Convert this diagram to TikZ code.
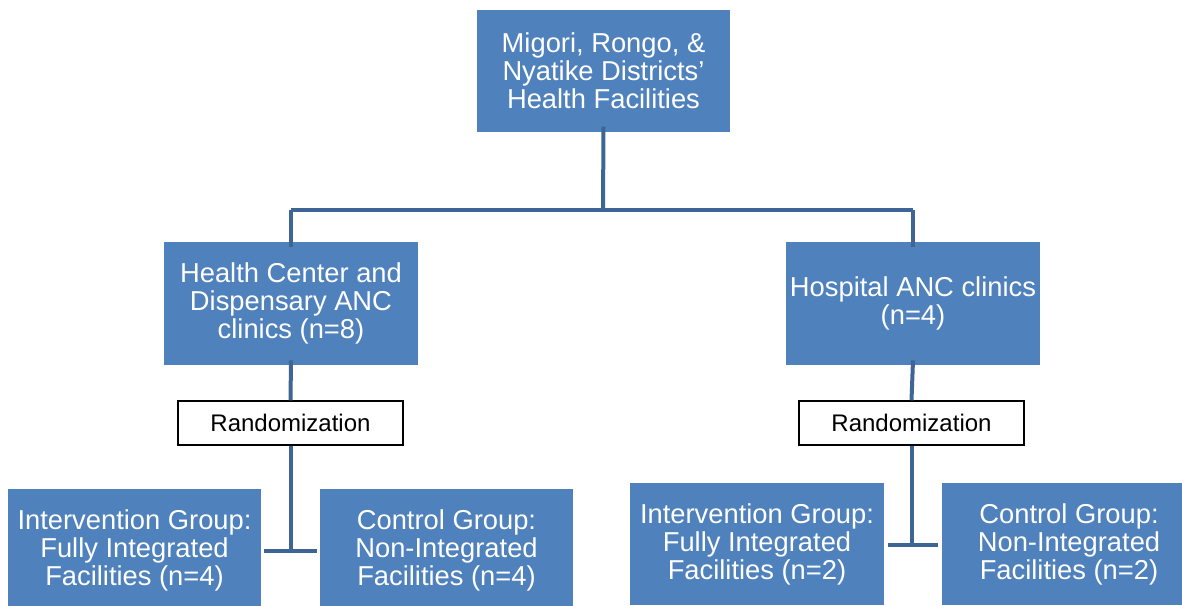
\documentclass[tikz,border=0pt]{standalone}
\usepackage{fontspec}
\setmainfont{Liberation Sans}
\usepackage{xcolor}
\usetikzlibrary{positioning}

\definecolor{boxblue}{RGB}{79,129,189}
\definecolor{linkblue}{RGB}{62,101,150}

\tikzset{
  bluebox/.style={fill=boxblue, draw=none, text=white, minimum width=190pt, minimum height=92pt,
    inner sep=0pt, align=center, font=\fontsize{20.5}{21}\selectfont},
  randbox/.style={fill=white, draw=black, line width=1.1pt, minimum width=169pt, minimum height=33pt,
    inner sep=0pt, font=\fontsize{18}{20}\selectfont},
  link/.style={draw=linkblue, line width=3pt}
}

\begin{document}
\begin{tikzpicture}[x=0.75pt,y=0.75pt,yscale=-1,xscale=1]
\useasboundingbox (0,0) rectangle (1182,606);

% Text Node
\node [bluebox] (dist) at (603.5,71) {Migori, Rongo, \&\\Nyatike Districts'\\Health Facilities};
% Text Node
\node [bluebox] (hc) at (291,303.5) {Health Center and\\Dispensary ANC\\clinics (n=8)};
% Text Node
\node [bluebox] (hosp) at (913,303.5) {Hospital ANC clinics\\(n=4)};
% Text Node
\node [randbox] (randL) at (290.5,423) {Randomization};
% Text Node
\node [randbox] (randR) at (911.5,423) {Randomization};
% Text Node
\node [bluebox] (intL) at (134.5,550) {Intervention Group:\\Fully Integrated\\Facilities (n=4)};
% Text Node
\node [bluebox] (ctlL) at (446.5,550) {Control Group:\\Non-Integrated\\Facilities (n=4)};
% Text Node
\node [bluebox] (intR) at (757,544) {Intervention Group:\\Fully Integrated\\Facilities (n=2)};
% Text Node
\node [bluebox] (ctlR) at (1069,544) {Control Group:\\Non-Integrated\\Facilities (n=2)};

\coordinate (split) at (603,210);
\coordinate (teeL) at (290.5,551);
\coordinate (teeR) at (911.5,545);

%Straight Lines
\draw [link] ([yshift=-4.5pt]dist.south) -- (split);
\draw [link] (hc.north |- split) -- (hosp.north |- split);
\draw [link] (hc.north |- split) -- ([yshift=4pt]hc.north);
\draw [link] (hosp.north |- split) -- ([yshift=4pt]hosp.north);
%Straight Lines
\draw [link] ([yshift=-3.5pt]hc.south) -- (randL.north);
\draw [link] (randL.south) -- (teeL);
\draw [link] ([xshift=2pt]intL.east |- teeL) -- ([xshift=-2pt]ctlL.west |- teeL);
%Straight Lines
\draw [link] ([yshift=-3.5pt]hosp.south) -- (randR.north);
\draw [link] (randR.south) -- (teeR);
\draw [link] ([xshift=3pt]intR.east |- teeR) -- ([xshift=-3pt]ctlR.west |- teeR);

\end{tikzpicture}
\end{document}
